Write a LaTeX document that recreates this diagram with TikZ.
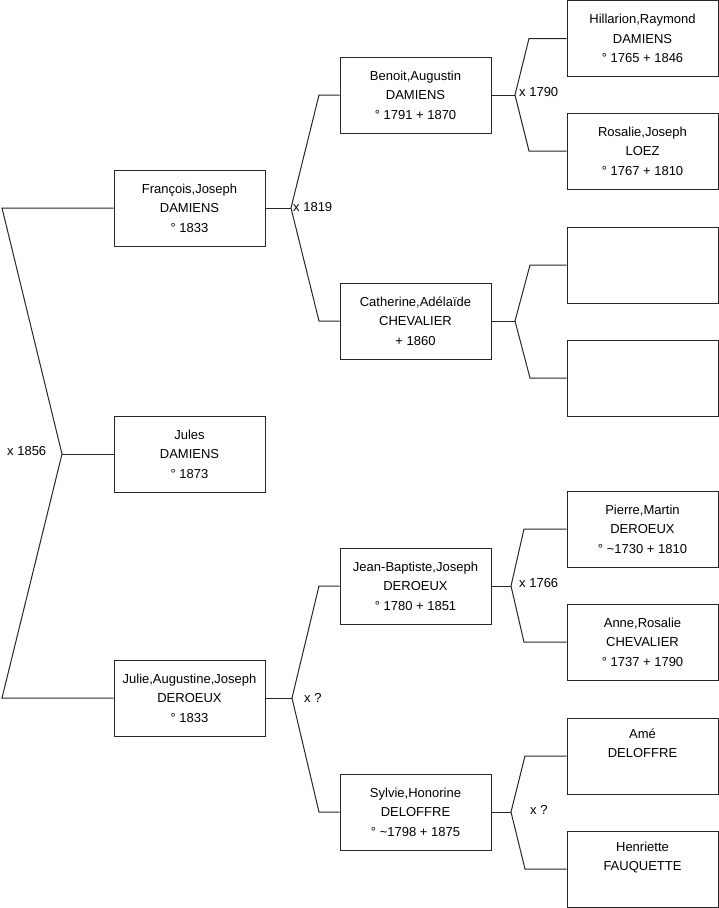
\documentclass[tikz,border=0pt]{standalone}
\usepackage{fontspec}
\setmainfont{Liberation Sans}
\begin{document}
\begin{tikzpicture}[x=1pt, y=-1pt,
    personne/.style={draw=black!85, line width=1pt, minimum width=151pt, minimum height=76pt,
        inner sep=0pt, align=center, font=\fontsize{13}{19.5}\selectfont},
    lien/.style={black!85, line width=1pt},
    mariage/.style={anchor=west, inner sep=0pt, font=\fontsize{13}{15}\selectfont}]
    \useasboundingbox (0,0) rectangle (719,908);

    % Generation 1 und 2
    \node[personne] (jules) at (189.5,454) {Jules\\DAMIENS\\° 1873};
    \node[personne] (francois) at (189.5,208) {François,Joseph\\DAMIENS\\° 1833};
    \node[personne] (julie) at (189.5,698) {Julie,Augustine,Joseph\\DEROEUX\\° 1833};

    % Generation 3
    \node[personne] (benoit) at (415.5,95) {Benoit,Augustin\\DAMIENS\\° 1791 + 1870};
    \node[personne] (catherine) at (415.5,321) {Catherine,Adélaïde\\CHEVALIER\\+ 1860};
    \node[personne] (jeanbaptiste) at (415.5,586) {Jean-Baptiste,Joseph\\DEROEUX\\° 1780 + 1851};
    \node[personne] (sylvie) at (415.5,812) {Sylvie,Honorine\\DELOFFRE\\° \textasciitilde1798 + 1875};

    % Generation 4
    \node[personne] (hillarion) at (642.5,38.5) {Hillarion,Raymond\\DAMIENS\\° 1765 + 1846};
    \node[personne] (rosalie) at (642.5,151) {Rosalie,Joseph\\LOEZ\\° 1767 + 1810};
    \node[personne] (inconnua) at (642.5,265) {};
    \node[personne] (inconnub) at (642.5,378) {};
    \node[personne] (pierre) at (642.5,529) {Pierre,Martin\\DEROEUX\\° \textasciitilde1730 + 1810};
    \node[personne] (anne) at (642.5,642) {Anne,Rosalie\\CHEVALIER\\° 1737 + 1790};
    \node[personne] (ame) at (642.5,756) {Amé\\DELOFFRE\\\strut};
    \node[personne] (henriette) at (642.5,869) {Henriette\\FAUQUETTE\\\strut};

    % Ehe x 1856
    \coordinate (m0) at (62,454);
    \draw[lien] (jules.west) -- (m0);
    \draw[lien] (francois.west) -- (2,208) -- (m0) -- (2,698) -- (julie.west);
    \node[mariage] (e0) at (7,451) {x 1856};

    % Ehe x 1819
    \coordinate (m1) at (291,208);
    \draw[lien] (francois.east) -- (m1);
    \draw[lien] (benoit.west) -- (319,95) -- (m1) -- (319,321) -- (catherine.west);
    \node[mariage] (e1) at (293,207) {x 1819};

    % Ehe x 1790
    \coordinate (m2) at (515,95);
    \draw[lien] (benoit.east) -- (m2);
    \draw[lien] (hillarion.west) -- (529,38.5) -- (m2) -- (529,151) -- (rosalie.west);
    \node[mariage] (e2) at (519,92) {x 1790};

    % Eltern von Catherine
    \coordinate (m3) at (515,321);
    \draw[lien] (catherine.east) -- (m3);
    \draw[lien] (inconnua.west) -- (530,265) -- (m3) -- (530,378) -- (inconnub.west);

    % Ehe x ?
    \coordinate (m4) at (292,698);
    \draw[lien] (julie.east) -- (m4);
    \draw[lien] (jeanbaptiste.west) -- (319,586) -- (m4) -- (319,812) -- (sylvie.west);
    \node[mariage] (e4) at (304,698) {x ?};

    % Ehe x 1766
    \coordinate (m5) at (511,586);
    \draw[lien] (jeanbaptiste.east) -- (m5);
    \draw[lien] (pierre.west) -- (524,529) -- (m5) -- (524,642) -- (anne.west);
    \node[mariage] (e5) at (519,583) {x 1766};

    % Ehe x ?
    \coordinate (m6) at (511,812);
    \draw[lien] (sylvie.east) -- (m6);
    \draw[lien] (ame.west) -- (525,756) -- (m6) -- (525,869) -- (henriette.west);
    \node[mariage] (e6) at (530,810) {x ?};
\end{tikzpicture}
\end{document}
